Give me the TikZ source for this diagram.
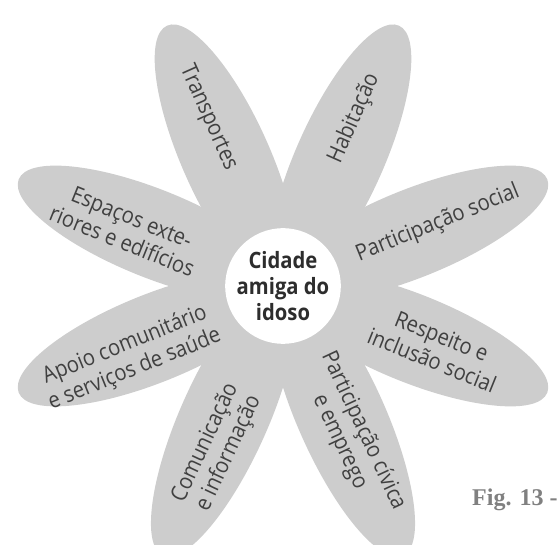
\documentclass[tikz,border=0pt]{standalone}
\usepackage{fontspec}
\newfontfamily\petalfont{Open Sans}[FakeStretch=0.9]
\newfontfamily\hubfont{Open Sans}[FakeStretch=0.9]
\newfontfamily\figfont{Liberation Serif}
\definecolor{petalgray}{RGB}{205,205,205}
\definecolor{labelgray}{RGB}{64,64,64}
\definecolor{hubgray}{RGB}{45,45,45}
\definecolor{figgray}{RGB}{128,128,128}
\begin{document}
\begin{tikzpicture}[x=1pt, y=1pt,
  petal/.style={fill=petalgray},
  lbl/.style={text=labelgray, align=center, inner sep=0pt,
    font=\petalfont\fontsize{22.5}{26}\selectfont},
  hub/.style={circle, fill=white, minimum size=110pt, inner sep=0pt,
    align=center, text=hubgray, font=\hubfont\bfseries\fontsize{22.5}{26}\selectfont}]
\useasboundingbox (-283,-259) rectangle (276,286);
\clip (-283,-259) rectangle (276,286);

% petals
\fill[petal, rotate=114] (140,0) ellipse [x radius=145, y radius=44];
\fill[petal, rotate=66] (140,0) ellipse [x radius=145, y radius=44];
\fill[petal, rotate=22] (140,0) ellipse [x radius=145, y radius=44];
\fill[petal, rotate=-22] (140,0) ellipse [x radius=145, y radius=44];
\fill[petal, rotate=-66] (145,0) ellipse [x radius=150, y radius=44];
\fill[petal, rotate=-114] (145,0) ellipse [x radius=150, y radius=44];
\fill[petal, rotate=-158] (140,0) ellipse [x radius=145, y radius=44];
\fill[petal, rotate=158] (140,0) ellipse [x radius=145, y radius=44];

\node[hub] (hub) at (0,0) {Cidade\\amiga do\\idoso};

\node[lbl, rotate=-66] (transp) at (114:184) {Transportes};
\node[lbl, rotate=66] (habit) at (67:182) {Habitação};
\node[lbl, rotate=22] (partsoc) at (22:167) {Participação social};
\node[lbl, rotate=-22] (respeito) at (-22:166) {Respeito e\\inclusão social};
\node[lbl, rotate=-65] (civica) at (-65.5:165) {Participação cívica\\e emprego};
\node[lbl, rotate=65] (comunic) at (-112:175) {Comunicação\\e informação};
\node[lbl, rotate=22] (apoio) at (-155:169) {Apoio comunitário\\e serviços de saúde};
\node[lbl, rotate=-22] (espacos) at (160:166) {Espaços exte-\\riores e edifícios};

\node[anchor=base west, text=figgray, inner sep=0pt,
  font=\figfont\bfseries\fontsize{24}{28}\selectfont] (fig) at (189,-219) {Fig. 13 -};
\end{tikzpicture}
\end{document}
